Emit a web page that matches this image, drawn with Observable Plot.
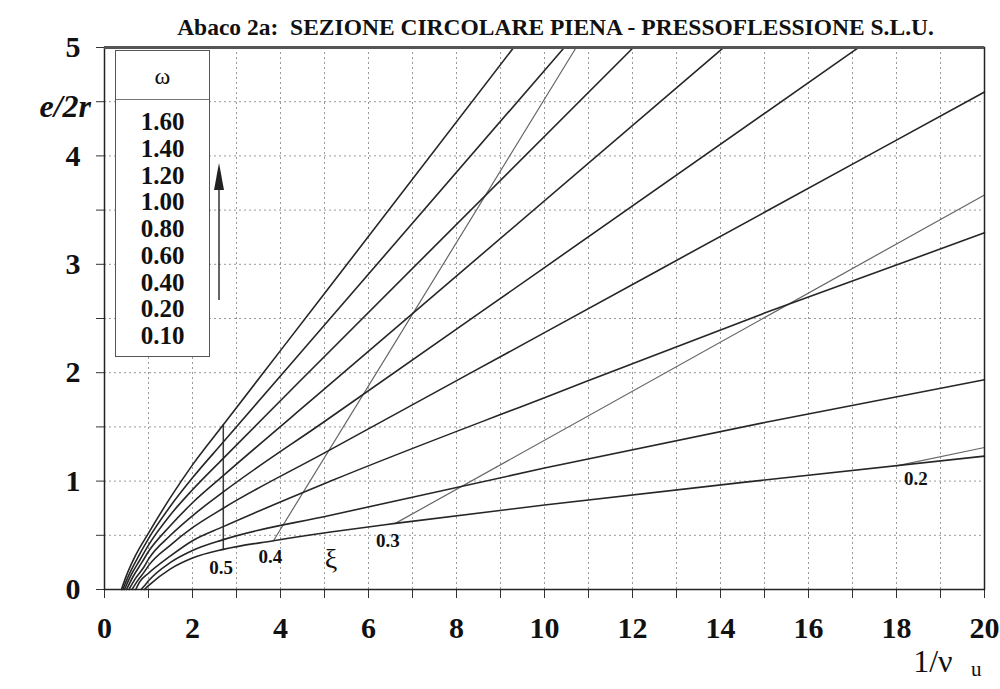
<!DOCTYPE html>
<html><head><meta charset="utf-8">
<script src="https://cdn.jsdelivr.net/npm/d3@7"></script>
<script src="https://cdn.jsdelivr.net/npm/@observablehq/plot@0.6"></script>
<style>
body{margin:0;background:#fff;}
#wrap{position:relative;width:1000px;height:689px;font-family:"Liberation Serif","DejaVu Serif",serif;}
#legend{position:absolute;left:115px;top:50px;width:93px;height:305px;border:1.5px solid #555;background:#fff;font-family:"Liberation Serif",serif;color:#111;}
#legend .hd{height:48px;border-bottom:1.5px solid #777;text-align:center;line-height:50px;font-size:24px;}
#legend .vals{padding-top:9px;text-align:center;font-weight:bold;font-size:25px;}
#legend .vals div{height:26.75px;line-height:26.75px;}
#arrow{position:absolute;left:212px;top:160px;}
</style></head><body><div id="wrap"></div>
<script>
// ---- data ----
const titleText = "Abaco 2a:  SEZIONE CIRCOLARE PIENA - PRESSOFLESSIONE S.L.U.";
const omegaLabels = ["1.60","1.40","1.20","1.00","0.80","0.60","0.40","0.20","0.10"];
const xLabelTicks = [0,2,4,6,8,10,12,14,16,18,20];
const xMinorTicks = [0,1,2,3,4,5,6,7,8,9,10,11,12,13,14,15,16,17,18,19,20];
const yLabelTicks = [0,1,2,3,4,5];
const yMinorTicks = [0,0.5,1,1.5,2,2.5,3,3.5,4,4.5,5];
const gridX = [1,2,3,4,5,6,7,8,9,10,11,12,13,14,15,16,17,18,19];
const gridY = [0.5,1,1.5,2,2.5,3,3.5,4,4.5];

// e/2r vs 1/nu_u for each omega
const w160 = [[0.385,0],[0.5,0.13],[0.7,0.31],[1.0,0.52],[1.5,0.85],[2.0,1.15],[2.7,1.52],[5,2.73],[9.3,5]];
const w140 = [[0.417,0],[0.55,0.13],[0.75,0.29],[1.0,0.47],[1.5,0.77],[2.0,1.03],[2.7,1.36],[5,2.44],[10.45,5]];
const w120 = [[0.455,0],[0.6,0.13],[0.8,0.27],[1.0,0.41],[1.5,0.69],[2.0,0.92],[2.7,1.21],[5,2.15],[12.02,5]];
const w100 = [[0.5,0],[0.65,0.12],[0.85,0.25],[1.0,0.35],[1.5,0.59],[2.0,0.8],[2.7,1.05],[5,1.85],[14.07,5]];
const w080 = [[0.556,0],[0.7,0.1],[0.9,0.21],[1.0,0.28],[1.5,0.5],[2.0,0.68],[2.7,0.9],[5,1.55],[10,2.97],[17.14,5]];
const w060 = [[0.625,0],[0.75,0.08],[0.9,0.16],[1.0,0.22],[1.5,0.41],[2.0,0.57],[2.7,0.75],[5,1.26],[10,2.37],[15,3.48],[20,4.59]];
const w040 = [[0.71,0],[0.8,0.07],[1.0,0.15],[1.5,0.31],[2.0,0.45],[2.7,0.58],[5.14,1.0],[10,1.77],[15,2.55],[20,3.29]];
const w020 = [[0.83,0],[0.92,0.04],[1.0,0.08],[1.5,0.25],[2.0,0.36],[2.7,0.46],[5.14,0.685],[10,1.12],[15,1.54],[20,1.935]];
const w010 = [[0.91,0],[1.0,0.035],[1.5,0.19],[2.0,0.29],[2.7,0.37],[3.84,0.45],[5.14,0.53],[6.61,0.61],[10,0.78],[15,1.01],[20,1.23]];
const omegaCurves = [w160,w140,w120,w100,w080,w060,w040,w020,w010];

// xi lines (neutral axis depth)
const xi05 = [[2.7,0.37],[2.7,1.52]];
const xi04 = [[3.84,0.45],[10.72,5]];
const xi03 = [[6.61,0.61],[20,3.64]];
const xi02 = [[18.0,1.14],[20,1.31]];
const xiSlanted = [["0.4",xi04],["0.3",xi03],["0.2",xi02]];
const xiValueLabels = [{label:"0.5",x:2.65,y:0.195},{label:"0.4",x:3.77,y:0.30},{label:"0.3",x:6.44,y:0.45},{label:"0.2",x:18.44,y:1.02}];
const xiSymbol = [{label:"ξ",x:5.15,y:0.28}];

// ---- build tables ----
const omegaRows = omegaCurves.flatMap((pts,i)=>pts.map(([x,y])=>({omega:omegaLabels[i],x,y})));
const xiRows = xiSlanted.flatMap(([k,pts])=>pts.map(([x,y])=>({xi:k,x,y})));
const xi05Rows = xi05.map(([x,y])=>({x,y}));

const serif = "Liberation Serif, DejaVu Serif, serif";
const chart = Plot.plot({
  width:1000, height:689,
  marginTop:47, marginLeft:104, marginRight:16, marginBottom:100,
  x:{domain:[0,20]}, y:{domain:[0,5]},
  style:{fontFamily:serif, background:"white", color:"#111"},
  marks:[
    Plot.gridX(gridX,{stroke:"#999",strokeOpacity:1,strokeDasharray:"2,3"}),
    Plot.gridY(gridY,{stroke:"#999",strokeOpacity:1,strokeDasharray:"2,3"}),
    Plot.axisX(xMinorTicks,{tickSize:9,tickFormat:()=>"",label:null,stroke:"#333"}),
    Plot.axisX(xLabelTicks,{tickSize:0,tickPadding:27,tickFormat:d=>String(d),fontSize:30,fontWeight:"bold",label:null}),
    Plot.axisY(yMinorTicks,{tickSize:8,tickFormat:()=>"",label:null,stroke:"#333"}),
    Plot.axisY(yLabelTicks,{tickSize:0,tickPadding:24,tickFormat:d=>String(d),fontSize:30,fontWeight:"bold",label:null}),
    Plot.line(xiRows,{x:"x",y:"y",z:"xi",stroke:"#666",strokeWidth:1.2}),
    Plot.line(xi05Rows,{x:"x",y:"y",stroke:"#3a3a3a",strokeWidth:1.5}),
    Plot.line(omegaRows,{x:"x",y:"y",z:"omega",curve:"monotone-x",stroke:"#262626",strokeWidth:1.6}),
    Plot.frame({stroke:"#222",strokeWidth:1.5}),
    Plot.ruleY([5],{stroke:"#555",strokeWidth:3}),
    Plot.text(xiValueLabels,{x:"x",y:"y",text:"label",fontSize:19,fontWeight:"bold",fill:"#111"}),
    Plot.text(xiSymbol,{x:"x",y:"y",text:"label",fontSize:28,fill:"#111"}),
    Plot.text([titleText],{frameAnchor:"top",dx:11,dy:-29,fontSize:23.5,fontWeight:"bold",fill:"#111"}),
    Plot.text(["e/2r"],{frameAnchor:"top-left",dx:-65,dy:59,lineAnchor:"middle",fontSize:32,fontStyle:"italic",fontWeight:"bold",fill:"#111"}),
    Plot.text(["1/ν"],{frameAnchor:"bottom-right",dx:-32,dy:72,lineAnchor:"middle",fontSize:32,fill:"#111"}),
    Plot.text(["u"],{frameAnchor:"bottom-right",dx:-3,dy:80,lineAnchor:"middle",fontSize:21,fill:"#111"})
  ]
});
const wrap = document.getElementById("wrap");
wrap.appendChild(chart);

// legend box
const lg = document.createElement("div");
lg.id = "legend";
lg.innerHTML = '<div class="hd">ω</div><div class="vals">' + omegaLabels.map(s=>"<div>"+s+"</div>").join("") + "</div>";
wrap.appendChild(lg);
// arrow
const ns = "http://www.w3.org/2000/svg";
const ar = document.createElementNS(ns,"svg");
ar.id="arrow"; ar.setAttribute("width","16"); ar.setAttribute("height","145");
ar.innerHTML = '<line x1="7" y1="28" x2="7" y2="140" stroke="#333" stroke-width="1.5"/><polygon points="2,30 12,30 7,3" fill="#222"/>';
wrap.appendChild(ar);
</script></body></html>
